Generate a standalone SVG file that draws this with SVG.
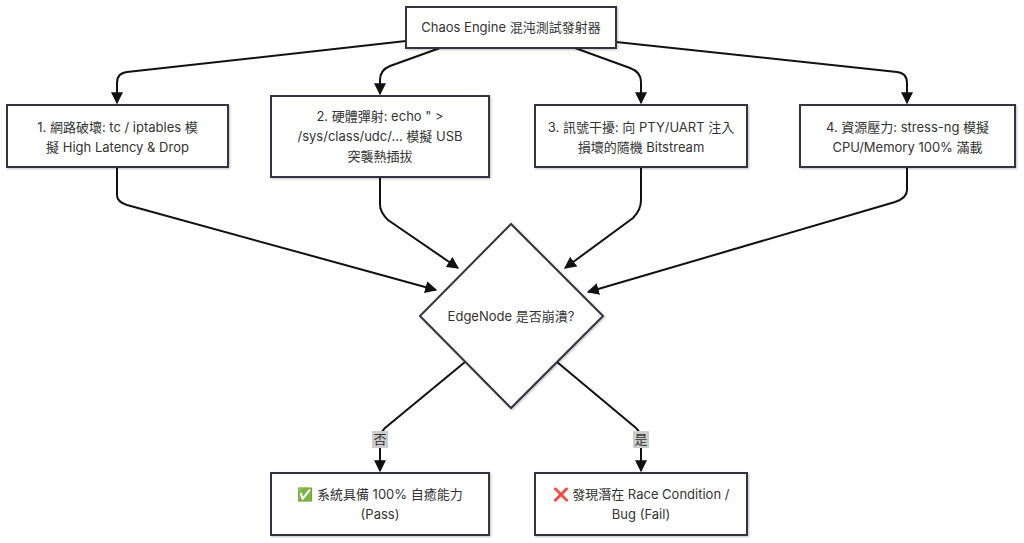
<svg xmlns="http://www.w3.org/2000/svg" width="1024" height="543" viewBox="0 0 1024 543">
<style>
.n{fill:#fff;stroke:#333344;stroke-width:2;filter:drop-shadow(1px 1px 1px rgba(0,0,0,0.25))}
.t{font-family:Inter,"Noto Sans CJK TC","Noto Sans",sans-serif;font-size:13px;fill:#333;text-anchor:middle}
.e{fill:none;stroke:#111;stroke-width:2;marker-end:url(#a)}
.l{fill:#ccc}
</style>
<defs><marker id="a" viewBox="0 0 10 10" refX="9" refY="5" markerWidth="6" markerHeight="6" orient="auto"><path d="M0,0L10,5L0,10z" fill="#111"/></marker></defs>
<rect width="1024" height="543" fill="#fff"/>
<g id="connectors">
<path class="e" d="M406,41 L127,72 Q117,73 117,83 L117,103"/>
<path class="e" d="M440,48 L390,66 Q380,70 380,80 L380,94"/>
<path class="e" d="M575,48 L630,68 Q641,72 641,82 L641,103"/>
<path class="e" d="M616,42 L897,72 Q907,73 907,83 L907,103"/>
<path class="e" d="M117,167 L117,195 Q117,202 127,205 L436,290"/>
<path class="e" d="M380,177 L380,205 Q380,212 388,220 L458,268"/>
<path class="e" d="M641,167 L641,200 Q641,210 633,218 L565,268"/>
<path class="e" d="M907,167 L907,190 Q907,198 895,202 L588,292"/>
<path class="e" d="M465,362 L385,428 Q380,433 380,440 L380,471"/>
<path class="e" d="M557,362 L636,428 Q641,433 641,440 L641,471"/>
<rect class="l" x="372" y="431" width="16" height="17"/><text class="t" x="380" y="444">否</text>
<rect class="l" x="633" y="431" width="16" height="17"/><text class="t" x="641" y="444">是</text>
</g>
<g id="start"><rect class="n" x="406" y="7" width="210" height="41"/><text class="t" x="511" y="32">Chaos Engine 混沌測試發射器</text></g>
<g id="n1"><rect class="n" x="7" y="105" width="221" height="62"/><text class="t" x="117.5" y="132">1. 網路破壞: tc / iptables 模</text><text class="t" x="117.5" y="152">擬 High Latency &amp; Drop</text></g>
<g id="n2"><rect class="n" x="271" y="96" width="218" height="81"/><text class="t" x="380" y="121">2. 硬體彈射: echo " &gt;</text><text class="t" x="380" y="141">/sys/class/udc/... 模擬 USB</text><text class="t" x="380" y="161">突襲熱插拔</text></g>
<g id="n3"><rect class="n" x="535" y="105" width="212" height="62"/><text class="t" x="641" y="132">3. 訊號干擾: 向 PTY/UART 注入</text><text class="t" x="641" y="152">損壞的隨機 Bitstream</text></g>
<g id="n4"><rect class="n" x="800" y="105" width="215" height="62"/><text class="t" x="907.5" y="132">4. 資源壓力: stress-ng 模擬</text><text class="t" x="907.5" y="152">CPU/Memory 100% 滿載</text></g>
<g id="dec"><path class="n" d="M511,224 L603,316 L511,408 L420,316 Z"/><text class="t" x="511" y="321">EdgeNode 是否崩潰?</text></g>
<g id="pass"><rect class="n" x="271" y="473" width="218" height="62"/><text class="t" x="380" y="499">✅ 系統具備 100% 自癒能力</text><text class="t" x="380" y="519">(Pass)</text></g>
<g id="fail"><rect class="n" x="535" y="473" width="212" height="62"/><text class="t" x="641" y="499">❌ 發現潛在 Race Condition /</text><text class="t" x="641" y="519">Bug (Fail)</text></g>
</svg>
